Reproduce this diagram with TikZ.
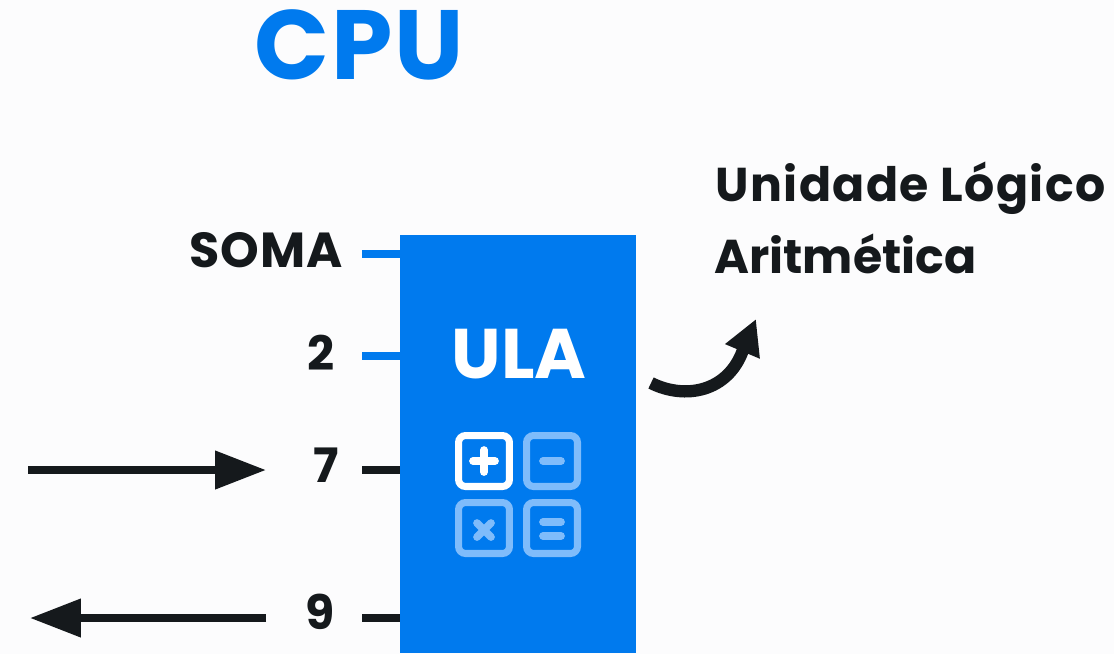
\documentclass[tikz,border=0pt]{standalone}
\usepackage{fontspec}
\setmainfont{Poppins}
\usepackage{xcolor}
\usetikzlibrary{arrows.meta}
\definecolor{ulablue}{HTML}{007AEE}
\definecolor{keylight}{HTML}{7FBCFB}
\definecolor{inkdark}{HTML}{15191C}
\definecolor{pagebg}{HTML}{FCFCFD}
\tikzset{
  label/.style={font=\fontsize{27}{27}\selectfont\bfseries, text=inkdark, inner sep=0pt},
  tick/.style={line width=4.2pt},
  flow/.style={line width=4.4pt, color=inkdark, -{Triangle[length=29pt,width=21pt]}},
  keybox/.style={draw=keylight, line width=4pt, rounded corners=4pt, minimum size=29pt, inner sep=0pt},
  keymark/.style={line width=4.4pt, line cap=round, color=keylight},
}
\begin{document}
\begin{tikzpicture}[x=0.02cm,y=-0.02cm]
\useasboundingbox[fill=pagebg] (0,0) rectangle (1114,654);

\node[font=\fontsize{56}{56}\selectfont\bfseries, text=ulablue, inner sep=0pt] (title) at (359,45) {\addfontfeature{LetterSpace=2}CPU};
\node[label, anchor=west] (nameA) at (715,188) {\addfontfeature{LetterSpace=3}Unidade Lógico};
\node[label, anchor=west] (nameB) at (714,254) {Aritmética};

\node[fill=ulablue, minimum width=236*0.02cm, minimum height=418*0.02cm, inner sep=0pt] (ula) at (518,444) {};
\node[font=\fontsize{40}{40}\selectfont\bfseries, text=white, inner sep=0pt] (ulaname) at (519,354) {ULA};

\node[label, font=\fontsize{28}{28}\selectfont\bfseries, anchor=east] (soma) at (343,250) {\addfontfeature{LetterSpace=2}SOMA};
\node[label] (two) at (321,353) {2};
\node[label] (seven) at (326,465) {7};
\node[label] (nine) at (320,612) {9};

% ticks into the box
\coordinate (somaT) at (362,254);
\coordinate (twoT) at (362,356);
\coordinate (sevenT) at (362,470);
\coordinate (nineT) at (362,618);
\draw[tick, ulablue] (somaT) -- (somaT -| ula.west);
\draw[tick, ulablue] (twoT) -- (twoT -| ula.west);
\draw[tick, inkdark] (sevenT) -- (sevenT -| ula.west);
\draw[tick, inkdark] (nineT) -- (nineT -| ula.west);

% input and output
\coordinate (inA) at (28,470);
\coordinate (inB) at (266,470);
\coordinate (outA) at (266,618);
\coordinate (outB) at (30,618);
\draw[flow] (inA) -- (inB);
\draw[flow] (outA) -- (outB);

% keys
\node[keybox, draw=white] (plus) at (484,461) {};
\node[keybox] (minus) at (552,461) {};
\node[keybox] (times) at (484,528) {};
\node[keybox] (equal) at (552,528) {};
\draw[keymark, white] (473,461) -- (495,461);
\draw[keymark, white] (484,450) -- (484,472);
\draw[keymark] (543,461) -- (561,461);
\draw[keymark] (477,523) -- (491,537);
\draw[keymark] (491,523) -- (477,537);
\draw[keymark] (543,522) -- (561,522);
\draw[keymark] (543,536) -- (561,536);

% curved pointer
\coordinate (bendA) at (651,383);
\coordinate (bendB) at (743,350);
\coordinate (bendC) at (756,319);
\draw[line width=7pt, inkdark, -{Triangle[length=20pt,width=20pt]}] (bendA) .. controls (685,400) and (728,392) .. (bendB) -- (bendC);
\end{tikzpicture}
\end{document}
